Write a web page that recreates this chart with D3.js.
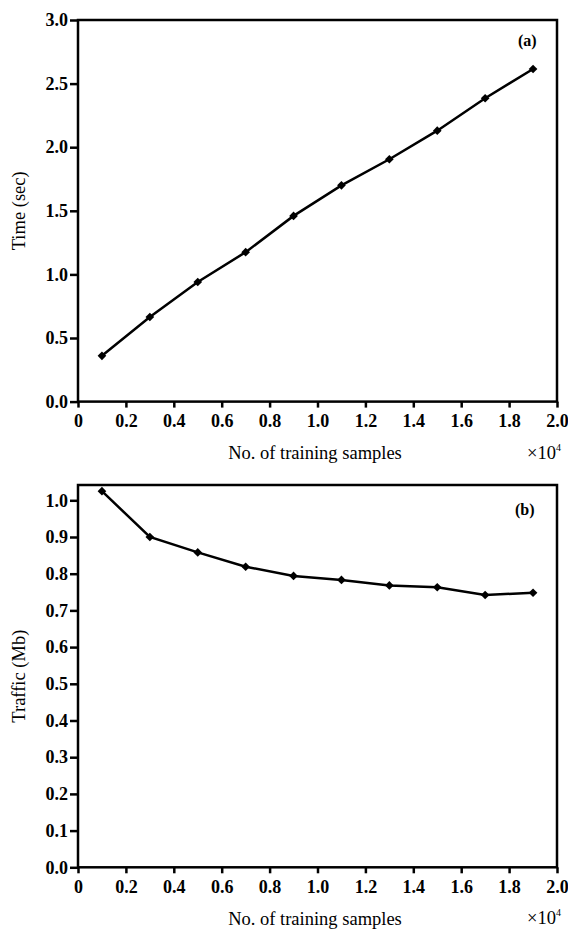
<!DOCTYPE html>
<html>
<head>
<meta charset="utf-8">
<script src="https://cdnjs.cloudflare.com/ajax/libs/d3/7.8.5/d3.min.js"></script>
</head>
<body style="margin:0;background:#fff">
<div id="main"></div>
<script>
// samples (x10^4)
const samples = [0.1, 0.3, 0.5, 0.7, 0.9, 1.1, 1.3, 1.5, 1.7, 1.9];
const timeSec = [0.36, 0.665, 0.94, 1.175, 1.46, 1.70, 1.905, 2.13, 2.385, 2.615];
const trafficMb = [1.025, 0.90, 0.858, 0.819, 0.794, 0.783, 0.768, 0.763, 0.742, 0.748];
const xTicks = [0, 0.2, 0.4, 0.6, 0.8, 1.0, 1.2, 1.4, 1.6, 1.8, 2.0];
const timeTicks = [0, 0.5, 1.0, 1.5, 2.0, 2.5, 3.0];
const trafficTicks = [0, 0.1, 0.2, 0.3, 0.4, 0.5, 0.6, 0.7, 0.8, 0.9, 1.0];

const serif = "'Liberation Serif', 'Times New Roman', 'DejaVu Serif', serif";
const w = 568, h = 930;
const svg = d3.select("#main").append("svg").attr("width", w).attr("height", h);

function panel(opts) {
  const left = 78, right = 557;
  const xScale = d3.scaleLinear().domain([0, 2.0]).range([left, right]);
  const yScale = d3.scaleLinear().domain(opts.ydom).range([opts.bottom, opts.top]);

  const g = svg.append("g");

  // frame
  g.append("rect")
    .attr("x", left).attr("y", opts.top)
    .attr("width", right - left).attr("height", opts.bottom - opts.top)
    .attr("fill", "none").attr("stroke", "#000").attr("stroke-width", 2.5);

  const xAxis = d3.axisBottom(xScale).tickValues(xTicks).tickSize(6).tickPadding(7)
    .tickFormat(d => d === 0 ? "0" : d3.format(".1f")(d));
  const yAxis = d3.axisLeft(yScale).tickValues(opts.yticks).tickSize(8).tickPadding(2)
    .tickFormat(d3.format(".1f"));

  const gx = g.append("g").attr("transform", "translate(0," + opts.bottom + ")").call(xAxis);
  const gy = g.append("g").attr("transform", "translate(" + left + ",0)").call(yAxis);
  [gx, gy].forEach(a => {
    a.attr("font-family", null).attr("font-size", null);
    a.select(".domain").remove();
    a.selectAll(".tick line").attr("stroke-width", 2.5);
    a.selectAll(".tick text").attr("fill", "#000")
      .style("font-family", serif).style("font-weight", "bold").style("font-size", "18px");
  });

  const line = d3.line().x((d, i) => xScale(samples[i])).y(d => yScale(d));
  g.append("path").datum(opts.values)
    .attr("d", line).attr("fill", "none").attr("stroke", "#000").attr("stroke-width", 2.5);

  g.selectAll(".pt").data(opts.values).enter().append("path")
    .attr("d", d3.symbol(d3.symbolDiamond2, 48)())
    .attr("transform", (d, i) => "translate(" + xScale(samples[i]) + "," + yScale(d) + ")")
    .attr("fill", "#000");

  const txt = sel => sel.style("font-family", serif).style("font-size", "18.5px").attr("fill", "#000");

  // panel tag
  g.append("text").call(txt)
    .attr("x", opts.tagX).attr("y", opts.tagY)
    .style("font-weight", "bold").style("font-size", "16px")
    .text(opts.tag);

  // axis titles
  g.append("text").call(txt)
    .attr("x", 315).attr("y", opts.bottom + 57.5)
    .attr("text-anchor", "middle")
    .text("No. of training samples");

  const mult = g.append("text").call(txt)
    .attr("x", 527).attr("y", opts.bottom + 57);
  mult.append("tspan").text("\u00d710");
  mult.append("tspan").attr("dy", -8).style("font-size", "10px").text("4");

  g.append("text").call(txt)
    .attr("transform", "translate(25," + ((opts.top + opts.bottom) / 2) + ") rotate(-90)")
    .attr("text-anchor", "middle")
    .text(opts.ylabel);
}

panel({ top: 20, bottom: 401.6, ydom: [0, 3.0], yticks: timeTicks, values: timeSec,
        tag: "(a)", tagX: 518, tagY: 46, ylabel: "Time (sec)" });
panel({ top: 485, bottom: 867.3, ydom: [0, 1.0 + 15.3 / 367], yticks: trafficTicks, values: trafficMb,
        tag: "(b)", tagX: 515, tagY: 515, ylabel: "Traffic (Mb)" });
</script>
</body>
</html>
